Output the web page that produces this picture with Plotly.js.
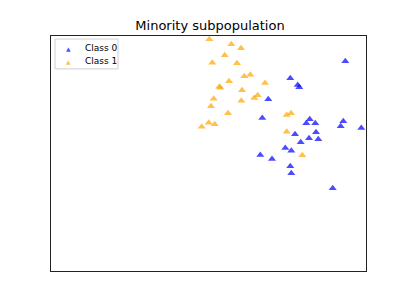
<!DOCTYPE html>
<html>
<head>
<script src="https://cdn.plot.ly/plotly-3.0.1.min.js"></script>
<style>body{margin:0;padding:0;background:#fff;}#chart{width:407px;height:305px;}</style>
</head>
<body>
<div id="chart"></div>
<script>
var class0X = [345.3, 290.3, 297.7, 299.3, 268.3, 262.3, 309.7, 306.3, 315.3, 343.3, 340.7, 361.3, 316.0, 295.0, 309.0, 318.3, 300.7, 285.3, 291.3, 260.3, 272.0, 290.3, 291.3, 332.7];
var class0Y = [243.7, 226.7, 220.0, 217.7, 205.7, 187.0, 185.7, 181.7, 181.7, 183.7, 178.7, 177.0, 172.7, 170.7, 166.7, 165.7, 162.7, 157.0, 154.3, 150.0, 146.0, 138.7, 131.7, 116.7];
var class1X = [209.3, 231.3, 241.0, 224.7, 212.3, 237.0, 244.3, 250.3, 265.0, 229.0, 220.3, 219.3, 242.0, 213.7, 257.7, 254.3, 241.3, 211.0, 228.0, 208.7, 214.7, 201.7, 286.7, 291.0, 286.7, 302.3];
var class1Y = [265.7, 260.7, 256.7, 249.7, 242.3, 241.7, 228.7, 230.3, 222.0, 223.7, 217.3, 218.3, 214.7, 206.3, 209.7, 207.0, 204.3, 198.7, 191.7, 182.3, 180.7, 178.3, 190.0, 191.7, 173.3, 149.7];
var seriesNames = ["Class 0", "Class 1"];
var seriesColors = ["rgba(0,0,255,0.7)", "rgba(255,165,0,0.7)"];

var traces = [
  {x: class0X, y: class0Y, name: seriesNames[0], type: "scatter", mode: "markers", showlegend: false,
   marker: {symbol: "triangle-up", size: 7, color: seriesColors[0], line: {width: 0}}},
  {x: class1X, y: class1Y, name: seriesNames[1], type: "scatter", mode: "markers", showlegend: false,
   marker: {symbol: "triangle-up", size: 7, color: seriesColors[1], line: {width: 0}}}
];

// custom compact legend (matplotlib style)
var annotations = [];
var legY = [0.948, 0.893];
for (var i = 0; i < seriesNames.length; i++) {
  annotations.push({xref: "paper", yref: "paper", x: 0.054, y: legY[i], xanchor: "center", yanchor: "middle",
    text: "▲", showarrow: false, font: {family: "DejaVu Sans", size: 6, color: seriesColors[i]}});
  annotations.push({xref: "paper", yref: "paper", x: 0.1, y: legY[i], xanchor: "left", yanchor: "middle",
    text: seriesNames[i], showarrow: false, font: {family: "DejaVu Sans", size: 9, color: "#000"}});
}

var layout = {
  width: 407, height: 305,
  margin: {l: 51, r: 41, t: 36, b: 34, pad: 0},
  paper_bgcolor: "#fff", plot_bgcolor: "#fff",
  title: {text: "Minority subpopulation", font: {family: "DejaVu Sans", size: 13, color: "#000"}, x: 0.516, xanchor: "center", y: 0.918, yanchor: "middle"},
  xaxis: {range: [51, 366], showgrid: false, zeroline: false, showticklabels: false, ticks: "",
          showline: true, mirror: true, linecolor: "#222", linewidth: 1},
  yaxis: {range: [34, 269], showgrid: false, zeroline: false, showticklabels: false, ticks: "",
          showline: true, mirror: true, linecolor: "#222", linewidth: 1},
  showlegend: false,
  shapes: [{type: "rect", xref: "paper", yref: "paper", x0: 0.0127, x1: 0.2127, y0: 0.86, y1: 0.987,
            line: {color: "#d0d0d0", width: 1}, fillcolor: "rgba(255,255,255,0.8)"}],
  annotations: annotations
};

Plotly.newPlot("chart", traces, layout, {staticPlot: true, displayModeBar: false});
</script>
</body>
</html>
